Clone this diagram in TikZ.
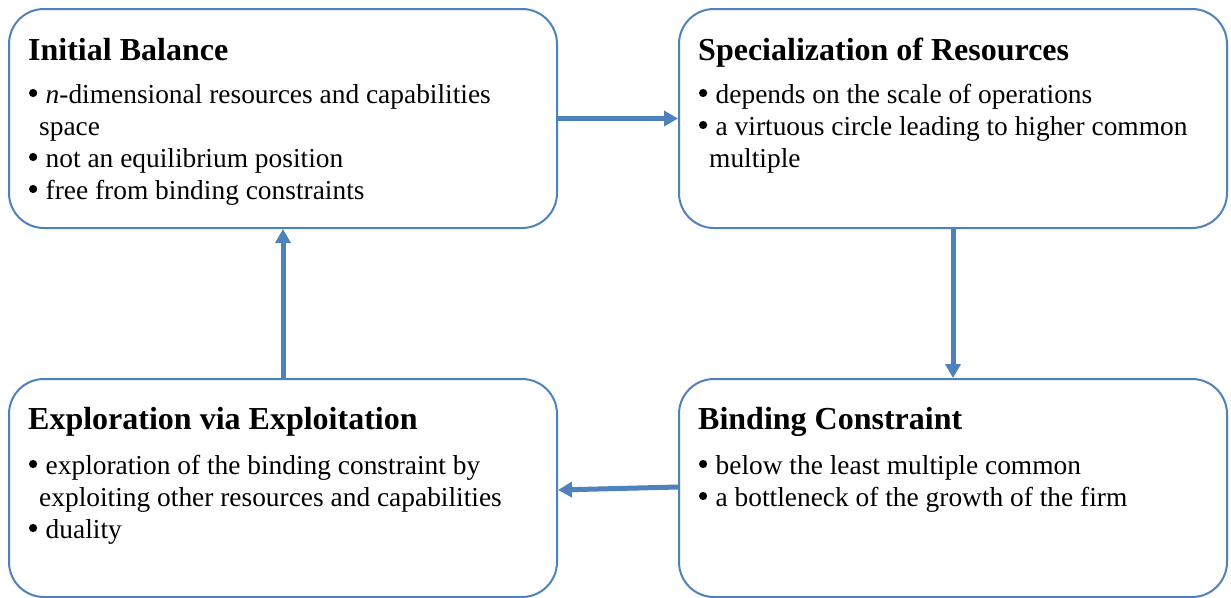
\documentclass[tikz,border=0pt]{standalone}
\usepackage{fontspec}
\setmainfont{Liberation Serif}
\usetikzlibrary{arrows.meta}
\definecolor{boxblue}{RGB}{79,129,189}
\newcommand\bulitem{\makebox[17.5pt][l]{\hspace*{0.8pt}\tikz[baseline=0pt,x=1pt,y=1pt]\fill[black] (0,10) circle[radius=4.1];}}
\begin{document}
\begin{tikzpicture}[x=1pt,y=-1pt,
  box/.style={draw=boxblue, line width=2pt, rounded corners=35pt, inner sep=0pt,
    anchor=north west, minimum width=548pt},
  title/.style={anchor=base west, inner sep=0pt, font=\fontsize{32}{38}\selectfont\bfseries},
  item/.style={anchor=base west, inner sep=0pt, font=\fontsize{27.4}{32}\selectfont},
  flow/.style={draw=boxblue, line width=5pt, -{Triangle[length=14pt,width=15pt]}}]
\useasboundingbox (0,0) rectangle (1231,597);
\fill[white] (0,0) rectangle (1231,597);
% boxes
\node[box, minimum height=219pt] (box1) at (8,8) {};
\node[box, minimum height=219pt] (box2) at (678,8) {};
\node[box, minimum height=218pt] (box3) at (8,378) {};
\node[box, minimum height=218pt] (box4) at (678,378) {};
% box 1
\node[title] (t1) at (28,60) {Initial Balance};
\node[item] (b1a) at (28,103) {\bulitem\textit{n}-dimensional resources and capabilities};
\node[item] (b1b) at (39,135) {space};
\node[item] (b1c) at (28,167) {\bulitem not an equilibrium position};
\node[item] (b1d) at (28,199) {\bulitem free from binding constraints};
% box 2
\node[title] (t2) at (698,60) {Specialization of Resources};
\node[item] (b2a) at (698,103) {\bulitem depends on the scale of operations};
\node[item] (b2b) at (698,135) {\bulitem a virtuous circle leading to higher common};
\node[item] (b2c) at (709,167) {multiple};
% box 3
\node[title] (t3) at (28,429) {Exploration via Exploitation};
\node[item] (b3a) at (28,474) {\bulitem exploration of the binding constraint by};
\node[item] (b3b) at (39,506) {exploiting other resources and capabilities};
\node[item] (b3c) at (28,538) {\bulitem duality};
% box 4
\node[title] (t4) at (698,429) {Binding Constraint};
\node[item] (b4a) at (698,474) {\bulitem below the least multiple common};
\node[item] (b4b) at (698,506) {\bulitem a bottleneck of the growth of the firm};
% arrows
\draw[flow] (box1.east) -- (box2.west);
\draw[flow] (box2.south) -- (box4.north);
\draw[flow] ([yshift=1pt]box4.west) -- ([yshift=-2pt]box3.east);
\draw[flow] (box3.north) -- (box1.south);
\end{tikzpicture}
\end{document}
